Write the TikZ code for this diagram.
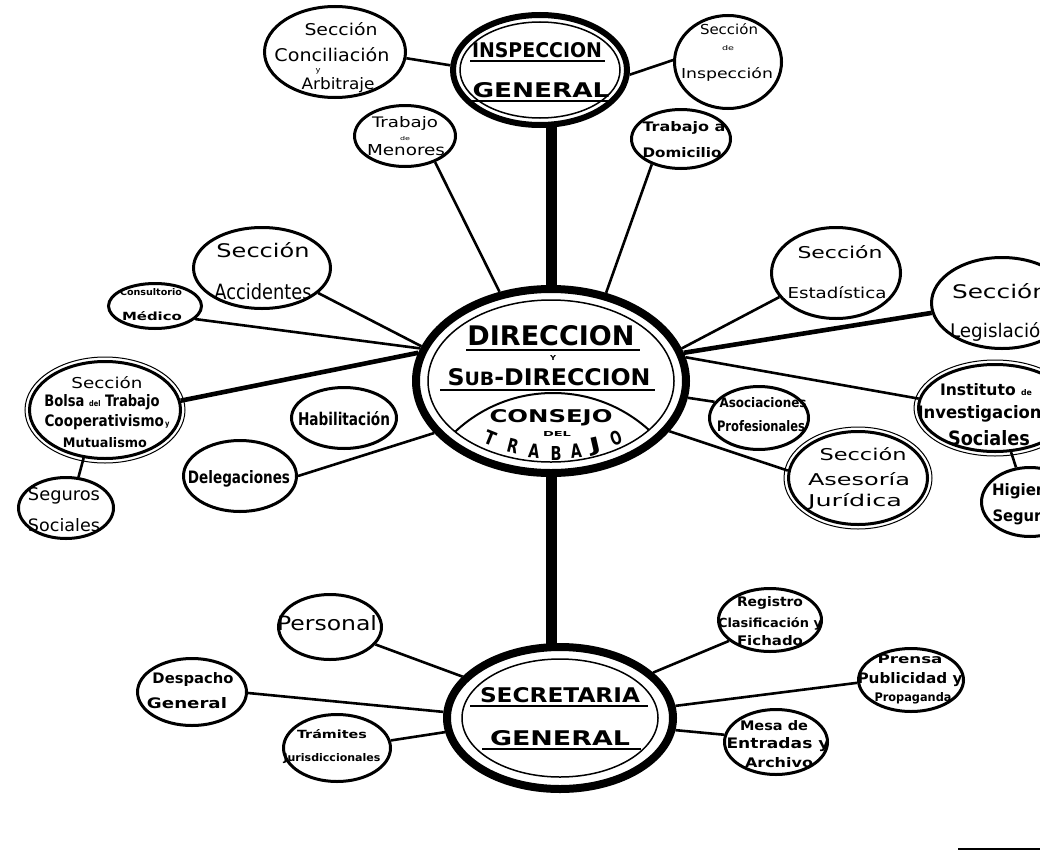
\documentclass[tikz,border=0pt]{standalone}
\usepackage{fontspec}
\setmainfont{DejaVu Sans}
\usepackage{graphicx}
\usetikzlibrary{shapes.geometric}
\pgfdeclarelayer{bg}
\pgfsetlayers{bg,main}
\newcounter{tlc}
\newcommand\tline[6]{\stepcounter{tlc}\node[txt,#1] (tl\arabic{tlc}) at (#2,#3) {\resizebox{#4pt}{#5pt}{#6}};}
\newcommand\tlet[4]{\stepcounter{tlc}\node[inner sep=0pt,anchor=center,rotate=#3,font=\bfseries] (tl\arabic{tlc}) at (#1,#2) {\resizebox{11pt}{14pt}{#4}};}
\tikzset{
 ell/.style={ellipse, draw, fill=white, line width=3pt, inner sep=0pt},
 bigell/.style={ellipse, draw, fill=white, inner sep=0pt},
 txt/.style={anchor=base, inner sep=0pt, outer sep=0pt},
 conn/.style={line width=2.6pt},
 heavy/.style={line width=4.6pt},
 spine/.style={line width=11pt},
 uline/.style={line width=2.2pt},
 halo/.style={line width=1pt},
 rg/.style={font=\mdseries},
 bd/.style={font=\bfseries}
}
\begin{document}
\begin{tikzpicture}[x=1pt,y=-1pt]
\useasboundingbox (0,0) rectangle (1040,851);
% ---- big nodes
\node[bigell, line width=6pt, minimum width=174pt, minimum height=110pt] (insp) at (540,70) {};
\node[bigell, line width=8pt, minimum width=270pt, minimum height=184pt] (dir) at (551,381) {};
\node[bigell, line width=8pt, minimum width=226pt, minimum height=142pt] (sec) at (560,718) {};
\draw[line width=1.5pt] (insp.center) ellipse [x radius=80pt, y radius=48pt];
\draw[line width=1.5pt] (dir.center) ellipse [x radius=123pt, y radius=81pt];
\draw[line width=1.5pt] (sec.center) ellipse [x radius=98pt, y radius=59pt];
\begin{scope}
\clip (dir.center) ellipse [x radius=123pt, y radius=81pt];
\draw[line width=2pt] (553,536) circle [radius=143pt];
\end{scope}
% ---- small nodes
\node[ell, minimum width=141pt, minimum height=91pt] (conc) at (335,52) {};
\node[ell, minimum width=107pt, minimum height=93pt] (secinsp) at (728,62) {};
\node[ell, minimum width=101pt, minimum height=61pt] (men) at (405,136) {};
\node[ell, minimum width=99pt, minimum height=59pt] (dom) at (681,139) {};
\node[ell, minimum width=137pt, minimum height=81pt] (acc) at (262,268) {};
\node[ell, minimum width=93pt, minimum height=45pt] (med) at (155,306) {};
\node[ell, minimum width=151pt, minimum height=97pt] (bolsa) at (105,410) {};
\node[ell, minimum width=95pt, minimum height=61pt] (seg) at (66,508) {};
\node[ell, minimum width=105pt, minimum height=61pt] (hab) at (344,418) {};
\node[ell, minimum width=113pt, minimum height=71pt] (del) at (240,476) {};
\node[ell, minimum width=129pt, minimum height=91pt] (est) at (836,273) {};
\node[ell, minimum width=141pt, minimum height=91pt] (leg) at (1002,303) {};
\node[ell, minimum width=153pt, minimum height=87pt] (inst) at (995,408) {};
\node[ell, minimum width=97pt, minimum height=69pt] (hig) at (1030,502) {};
\node[ell, minimum width=99pt, minimum height=63pt] (aso) at (759,418) {};
\node[ell, minimum width=139pt, minimum height=93pt] (ase) at (858,478) {};
\node[ell, minimum width=103pt, minimum height=65pt] (per) at (330,627) {};
\node[ell, minimum width=109pt, minimum height=67pt] (desp) at (192,692) {};
\node[ell, minimum width=107pt, minimum height=67pt] (tram) at (337,748) {};
\node[ell, minimum width=103pt, minimum height=63pt] (reg) at (770,620) {};
\node[ell, minimum width=105pt, minimum height=63pt] (pren) at (911,680) {};
\node[ell, minimum width=103pt, minimum height=65pt] (mesa) at (776,742) {};
\draw[halo] (ase.center) ellipse [x radius=74pt, y radius=51pt];
\draw[halo] (bolsa.center) ellipse [x radius=80pt, y radius=53pt];
\draw[halo] (inst.center) ellipse [x radius=81pt, y radius=48pt];
% ---- connectors
\begin{pgfonlayer}{bg}
\draw[spine] (insp.center -| dir.north) -- (dir.center);
\draw[spine] (dir.center) -- (sec.center -| dir.center);
\draw[conn] (conc.-5) -- (insp.177);
\draw[conn] (insp.-3) -- (secinsp.178);
\draw[conn] (men.-41) -- (dir.120);
\draw[conn] (dom.221) -- (dir.58);
\draw[conn] (acc.-24) -- (dir.165);
\draw[conn] (med.-18) -- (dir.166);
\draw[heavy] (bolsa.7) -- (dir.168);
\draw[conn] (bolsa.-114) -- (seg.68);
\draw[conn] (del.0) -- (dir.204);
\draw[conn] (est.203) -- (dir.14);
\draw[heavy] (leg.188) -- (dir.12);
\draw[conn] (inst.173) -- (dir.10);
\draw[conn] (dir.-7) -- (aso.160);
\draw[conn] (ase.174) -- (dir.-23);
\draw[conn] (inst.-70) -- (hig.112);
\draw[conn] (per.-21) -- (sec.157);
\draw[conn] (desp.-1) -- (sec.177);
\draw[conn] (tram.8) -- (sec.187);
\draw[conn] (reg.207) -- (sec.26);
\draw[conn] (pren.183) -- (sec.6);
\draw[conn] (mesa.172) -- (sec.-6);
\end{pgfonlayer}
% ---- titles
\tline{bd}{537}{57}{130}{15}{INSPECCION}
\tline{bd}{541}{97}{137}{15}{GENERAL}
\draw[uline] (470,61) -- (605,61);
\draw[uline] (470,101) -- (612,101);
\tline{bd}{551}{345}{167}{20}{DIRECCION}
\draw[line width=2.5pt] (466,350) -- (640,350);
\tline{bd}{553}{360}{6}{5}{Y}
\tline{bd}{549}{385}{203}{17}{S{\footnotesize UB}-DIRECCION}
\draw[line width=2.5pt] (440,390) -- (655,390);
\tline{bd}{551}{422}{123}{13}{CONSEJO}
\tline{bd}{557}{436}{28}{5}{DEL}
\tlet{490}{438}{-22}{T}
\tlet{513}{446}{-14}{R}
\tlet{534}{451}{-6}{A}
\tlet{556}{453}{0}{B}
\tlet{576}{451}{6}{A}
\tlet{596}{446}{13}{J}
\tlet{616}{438}{20}{O}
\tline{bd}{560}{702}{160}{15}{SECRETARIA}
\draw[uline] (470,706) -- (648,706);
\tline{bd}{560}{745}{140}{15}{GENERAL}
\draw[uline] (482,749) -- (641,749);
% ---- small texts
\tline{rg}{341}{35}{73}{13}{Sección}
\tline{rg}{332}{61}{115}{14}{Conciliación}
\tline{rg}{318}{72}{5}{4}{y}
\tline{rg}{338}{89}{73}{12}{Arbitraje}
\tline{rg}{729}{35}{58}{11}{Sección}
\tline{rg}{728}{51}{12}{5}{de}
\tline{rg}{727}{78}{92}{11}{Inspección}
\tline{rg}{405}{127}{66}{11}{Trabajo}
\tline{rg}{405}{140}{10}{4}{de}
\tline{rg}{406}{155}{78}{11}{Menores}
\tline{bd}{684}{131}{83}{10}{Trabajo a}
\tline{bd}{682}{157}{79}{10}{Domicilio}
\tline{rg}{263}{257}{93}{15}{Sección}
\tline{rg}{263}{299}{97}{16}{Accidentes}
\tline{bd}{151}{295}{62}{7}{Consultorio}
\tline{bd}{152}{320}{60}{9}{Médico}
\tline{rg}{107}{388}{71}{12}{Sección}
\tline{bd}{102}{406}{115}{12}{Bolsa {\tiny del} Trabajo}
\tline{bd}{107}{426}{125}{12}{Cooperativismo{\tiny\,y}}
\tline{bd}{105}{447}{84}{10}{Mutualismo}
\tline{rg}{64}{500}{72}{13}{Seguros}
\tline{rg}{64}{531}{72}{13}{Sociales}
\tline{bd}{344}{425}{92}{14}{Habilitación}
\tline{bd}{239}{483}{102}{13}{Delegaciones}
\tline{rg}{840}{258}{85}{13}{Sección}
\tline{rg}{837}{298}{99}{12}{Estadística}
\tline{rg}{1000}{298}{96}{15}{Sección}
\tline{rg}{1001}{337}{102}{15}{Legislación}
\tline{bd}{986}{395}{92}{12}{Instituto {\tiny de}}
\tline{bd}{990}{418}{145}{13}{Investigaciones}
\tline{bd}{989}{445}{82}{15}{Sociales}
\tline{bd}{1032}{495}{80}{12}{Higiene y}
\tline{bd}{1035}{521}{85}{12}{Seguridad}
\tline{bd}{763}{407}{87}{10}{Asociaciones}
\tline{bd}{761}{431}{88}{11}{Profesionales}
\tline{rg}{863}{460}{87}{13}{Sección}
\tline{rg}{859}{485}{102}{13}{Asesoría}
\tline{rg}{855}{506}{94}{13}{Jurídica}
\tline{rg}{327}{630}{100}{15}{Personal}
\tline{bd}{193}{683}{81}{11}{Despacho}
\tline{bd}{187}{708}{80}{11}{General}
\tline{bd}{332}{738}{70}{9}{Trámites}
\tline{bd}{332}{761}{97}{8}{Jurisdiccionales}
\tline{bd}{770}{606}{66}{10}{Registro}
\tline{bd}{770}{627}{104}{10}{Clasificación y}
\tline{bd}{770}{645}{66}{10}{Fichado}
\tline{bd}{910}{663}{65}{9}{Prensa}
\tline{bd}{910}{683}{105}{11}{Publicidad y}
\tline{bd}{913}{701}{77}{9}{Propaganda}
\tline{bd}{774}{730}{68}{10}{Mesa de}
\tline{bd}{778}{748}{103}{11}{Entradas y}
\tline{bd}{779}{767}{68}{10}{Archivo}
% stray mark bottom right
\draw[line width=2.5pt] (958,849) -- (1040,849);
\end{tikzpicture}
\end{document}
